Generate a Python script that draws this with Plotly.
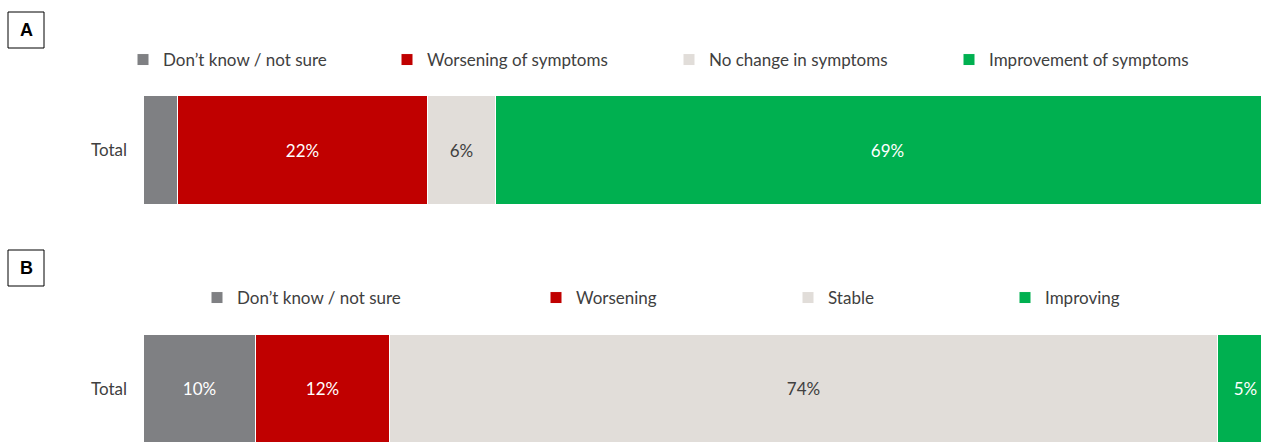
import plotly.graph_objects as go

categories = ["Total"]

names_a = ["Don’t know / not sure", "Worsening of symptoms", "No change in symptoms", "Improvement of symptoms"]
values_a = [3, 22, 6, 69]
labels_a = ["", "22%", "6%", "69%"]

names_b = ["Don’t know / not sure", "Worsening", "Stable", "Improving"]
values_b = [10, 12, 74, 5]
labels_b = ["10%", "12%", "74%", "5%"]

colors = ["#7F8083", "#C00000", "#E1DDD9", "#00B050"]
text_colors = ["#FFFFFF", "#FFFFFF", "#404040", "#FFFFFF"]

W, H = 1261, 443
FONT = "Lato"

# legend text start positions (px) in reference
leg_a_x = [163, 427, 709, 989]
leg_b_x = [237, 576, 828, 1045]

fig = go.Figure()
legends = {}
k = 1
for panel, (names, values, labels, xs, xa, ya, ly) in enumerate([
        (names_a, values_a, labels_a, leg_a_x, "x", "y", 60),
        (names_b, values_b, labels_b, leg_b_x, "x2", "y2", 298)]):
    for i in range(4):
        lname = "legend" if k == 1 else f"legend{k}"
        fig.add_trace(go.Bar(
            y=categories, x=[values[i]], orientation="h", name=names[i],
            marker=dict(color=colors[i], line=dict(color="#FFFFFF", width=1)),
            text=[labels[i]], textposition="inside", insidetextanchor="middle",
            textfont=dict(family=FONT, size=17, color=text_colors[i]),
            width=1, xaxis=xa, yaxis=ya, legend=lname, showlegend=True,
            hoverinfo="skip", cliponaxis=True,
        ))
        legends[lname] = dict(
            x=(xs[i] - 40) / W, xanchor="left", y=1 - ly / H, yanchor="middle",
            orientation="h", bgcolor="rgba(0,0,0,0)", borderwidth=0,
            font=dict(family=FONT, size=17, color="#404040"),
            itemclick=False, itemdoubleclick=False,
        )
        k += 1

x0 = 144 / W
axis_common = dict(showgrid=False, zeroline=False, showticklabels=False, showline=False, ticks="")
yaxis_common = dict(showgrid=False, zeroline=False, showline=False, ticks="", type="category",
                    range=[-0.5, 0.5], tickfont=dict(family=FONT, size=17, color="#404040"),
                    ticklabelstandoff=16)

fig.update_layout(
    width=W, height=H, margin=dict(l=0, r=0, t=0, b=0),
    paper_bgcolor="white", plot_bgcolor="white",
    barmode="stack", bargap=0,
    xaxis=dict(domain=[x0, 1], range=[0, 98.3], anchor="y", **axis_common),
    yaxis=dict(domain=[1 - 205 / H, 1 - 96 / H], anchor="x", **yaxis_common),
    xaxis2=dict(domain=[x0, 1], range=[0, 99.8], anchor="y2", **axis_common),
    yaxis2=dict(domain=[0, 1 - 335 / H], anchor="x2", **yaxis_common),
    uniformtext=dict(mode="show", minsize=10),
    **legends,
)

# panel letters
for letter, top in [("A", 12), ("B", 250)]:
    fig.add_shape(type="rect", xref="paper", yref="paper",
                  x0=8 / W, x1=44 / W, y0=1 - (top + 36) / H, y1=1 - top / H,
                  line=dict(color="#000000", width=1), fillcolor="white")
    fig.add_annotation(text=f"<b>{letter}</b>", xref="paper", yref="paper",
                       x=26 / W, y=1 - (top + 18) / H, xanchor="center", yanchor="middle",
                       showarrow=False, font=dict(family="Liberation Sans", size=18, color="#000000"))

fig.write_html("out.html")
